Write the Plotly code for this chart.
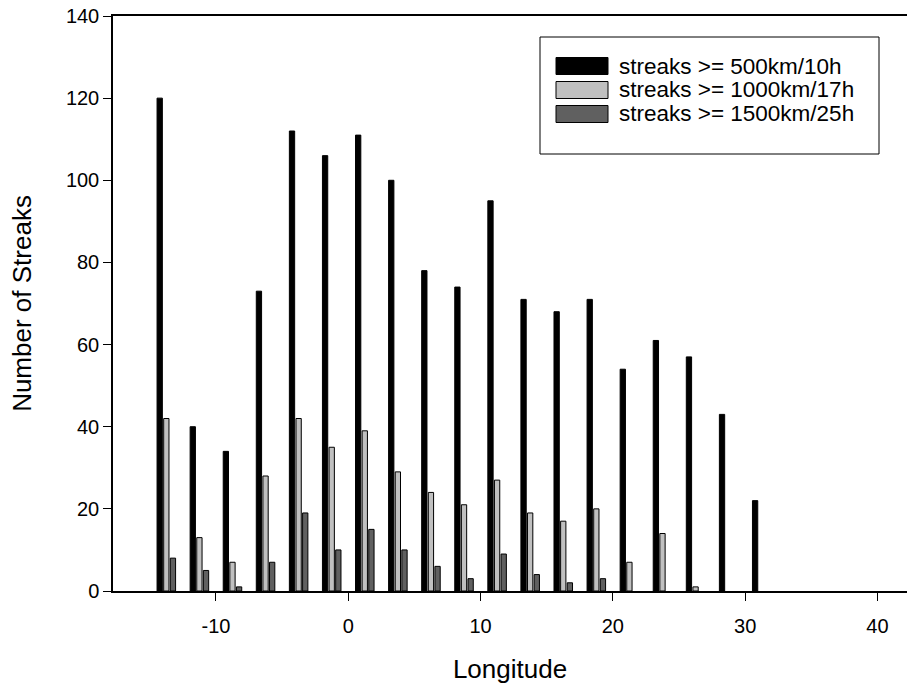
import plotly.graph_objects as go

# ---- data ----
longitudes = [-13.75, -11.25, -8.75, -6.25, -3.75, -1.25, 1.25, 3.75, 6.25, 8.75,
              11.25, 13.75, 16.25, 18.75, 21.25, 23.75, 26.25, 28.75, 31.25]
streaks_500 = [120, 40, 34, 73, 112, 106, 111, 100, 78, 74, 95, 71, 68, 71, 54, 61, 57, 43, 22]
streaks_1000 = [42, 13, 7, 28, 42, 35, 39, 29, 24, 21, 27, 19, 17, 20, 7, 14, 1, 0, 0]
streaks_1500 = [8, 5, 1, 7, 19, 10, 15, 10, 6, 3, 9, 4, 2, 3, 0, 0, 0, 0, 0]
series_names = ["streaks >= 500km/10h", "streaks >= 1000km/17h", "streaks >= 1500km/25h"]
series_colors = ["#000000", "#c0c0c0", "#606060"]
y_ticks = [0, 20, 40, 60, 80, 100, 120, 140]
x_ticks = [-10, 0, 10, 20, 30, 40]
x_tick_labels = ["-10", "0", "10", "20", "30", "40"]

W, H = 907, 689
ML, MR, MT, MB = 113, 0, 16, 98
FONT = "Arial, Liberation Sans, sans-serif"

fig = go.Figure()
for name, vals, col in zip(series_names, [streaks_500, streaks_1000, streaks_1500], series_colors):
    fig.add_trace(go.Bar(x=longitudes, y=[v if v else None for v in vals], name=name,
                         marker=dict(color=col, line=dict(color="#000000", width=1)),
                         showlegend=False))

pw, ph = W - ML - MR, H - MT - MB
def px_x(p):
    return (p - ML) / pw
def px_y(p):
    return (H - MB - p) / ph

# custom legend (box, swatches, labels)
shapes = [dict(type="rect", xref="paper", yref="paper",
               x0=px_x(540), x1=px_x(879), y0=px_y(154), y1=px_y(37),
               line=dict(color="#000000", width=1), fillcolor="#ffffff", layer="above")]
annotations = []
row_y = [66, 90, 114]
for name, col, ry in zip(series_names, series_colors, row_y):
    shapes.append(dict(type="rect", xref="paper", yref="paper",
                       x0=px_x(556), x1=px_x(608), y0=px_y(ry + 8.5), y1=px_y(ry - 8.5),
                       line=dict(color="#000000", width=1), fillcolor=col, layer="above"))
    annotations.append(dict(xref="paper", yref="paper", x=px_x(617), y=px_y(ry),
                            xanchor="left", yanchor="middle", showarrow=False,
                            text=name, font=dict(family=FONT, size=22.5, color="#000000")))

fig.update_layout(
    width=W, height=H,
    margin=dict(l=ML, r=MR, t=MT, b=MB),
    paper_bgcolor="#ffffff", plot_bgcolor="#ffffff",
    barmode="group", bargap=0.4, bargroupgap=0.2,
    font=dict(family=FONT, size=20, color="#000000"),
    shapes=shapes, annotations=annotations,
    xaxis=dict(range=[-17.78, 42.23], tickvals=x_ticks, ticktext=x_tick_labels,
               ticks="outside", ticklen=8, ticklabelstandoff=8,
               tickcolor="#000000", tickwidth=1, showline=True, linecolor="#000000",
               linewidth=1.5, mirror=True, showgrid=False, zeroline=False,
               title=dict(text="Longitude", font=dict(size=26), standoff=24)),
    yaxis=dict(range=[0, 140], tickvals=y_ticks, ticks="outside", ticklen=8,
               tickcolor="#000000", tickwidth=1, showline=True, linecolor="#000000",
               linewidth=1.5, showgrid=False, zeroline=False,
               title=dict(text="Number of Streaks", font=dict(size=26), standoff=27)),
)

fig.write_html("out.html")
